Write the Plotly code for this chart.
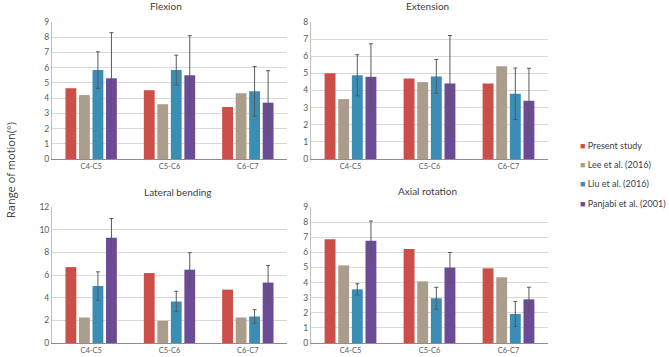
import plotly.graph_objects as go

levels = ["C4-C5", "C5-C6", "C6-C7"]
series = ["Present study", "Lee et al. (2016)", "Liu et al. (2016)", "Panjabi et al. (2001)"]
colors = ["#CB4F48", "#AB9D8C", "#3A8DB4", "#6B4A96"]

panel_titles = ["Flexion", "Extension", "Lateral bending", "Axial rotation"]

flexion_present = [4.65, 4.52, 3.42]
flexion_lee = [4.2, 3.6, 4.32]
flexion_liu = [5.84, 5.84, 4.45]
flexion_liu_err = [1.2, 0.98, 1.63]
flexion_panjabi = [5.3, 5.5, 3.7]
flexion_panjabi_err = [3.0, 2.6, 2.1]

extension_present = [5.01, 4.7, 4.41]
extension_lee = [3.5, 4.49, 5.42]
extension_liu = [4.89, 4.82, 3.81]
extension_liu_err = [1.2, 0.99, 1.5]
extension_panjabi = [4.8, 4.41, 3.4]
extension_panjabi_err = [1.93, 2.8, 1.9]

lateral_present = [6.7, 6.17, 4.71]
lateral_lee = [2.25, 1.96, 2.25]
lateral_liu = [5.03, 3.66, 2.34]
lateral_liu_err = [1.25, 0.9, 0.6]
lateral_panjabi = [9.28, 6.47, 5.33]
lateral_panjabi_err = [1.7, 1.5, 1.5]

axial_present = [6.86, 6.22, 4.94]
axial_lee = [5.14, 4.08, 4.35]
axial_liu = [3.55, 2.96, 1.92]
axial_liu_err = [0.37, 0.73, 0.83]
axial_panjabi = [6.77, 4.99, 2.89]
axial_panjabi_err = [1.3, 1.0, 0.8]

panels = [
    (flexion_present, flexion_lee, flexion_liu, flexion_liu_err, flexion_panjabi, flexion_panjabi_err),
    (extension_present, extension_lee, extension_liu, extension_liu_err, extension_panjabi, extension_panjabi_err),
    (lateral_present, lateral_lee, lateral_liu, lateral_liu_err, lateral_panjabi, lateral_panjabi_err),
    (axial_present, axial_lee, axial_liu, axial_liu_err, axial_panjabi, axial_panjabi_err),
]
y_ranges = [(0, 9, 1), (0, 8, 1), (0, 12, 2), (0, 9, 1)]

W, H = 669, 357
x_domains = [(52 / W, 287 / W), (311 / W, 548 / W)]
y_domains = [((H - 159) / H, (H - 22) / H), ((H - 343) / H, (H - 207) / H)]

FONT = "Lato, 'Open Sans', sans-serif"
fig = go.Figure()

err_style = dict(type="data", symmetric=True, thickness=1, width=2, color="#595959")

for i, p in enumerate(panels):
    present, lee, liu, liu_err, panj, panj_err = p
    ax = "" if i == 0 else str(i + 1)
    xa, ya = "x" + ax, "y" + ax
    vals = [present, lee, liu, panj]
    errs = [None, None, liu_err, panj_err]
    for s in range(4):
        tr = dict(x=levels, y=vals[s], name=series[s], marker_color=colors[s],
                  marker_line_width=0, showlegend=False, xaxis=xa, yaxis=ya,
                  hoverinfo="skip")
        if errs[s] is not None:
            tr["error_y"] = dict(array=errs[s], **err_style)
        fig.add_trace(go.Bar(**tr))

layout = dict(
    width=W, height=H,
    margin=dict(l=0, r=0, t=0, b=0, pad=0, autoexpand=False),
    paper_bgcolor="white", plot_bgcolor="white",
    barmode="group", bargap=0.31, bargroupgap=0.2,
    font=dict(family=FONT, color="#595959", size=9),
    showlegend=False,
)

for i in range(4):
    ax = "" if i == 0 else str(i + 1)
    col, row = i % 2, i // 2
    lo, hi, dt = y_ranges[i]
    layout["xaxis" + ax] = dict(domain=x_domains[col], anchor="y" + ax,
                                showline=True, linecolor="#8c8c8c", linewidth=1,
                                ticks="", showgrid=False, automargin=False,
                                tickfont=dict(size=7.5, color="#595959"),
                                fixedrange=True)
    layout["yaxis" + ax] = dict(domain=y_domains[row], anchor="x" + ax,
                                range=[lo, hi], dtick=dt, tick0=0,
                                showline=True, linecolor="#bfbfbf", linewidth=1,
                                showgrid=True, gridcolor="#d9d9d9", gridwidth=1,
                                zeroline=False, ticks="", automargin=False,
                                tickfont=dict(size=8.5, color="#595959"),
                                fixedrange=True)

fig.update_layout(**layout)

title_pos = [(166, 6), (427, 6), (178, 192), (427, 191)]
for (tx, ty), t in zip(title_pos, panel_titles):
    fig.add_annotation(x=tx / W, y=(H - ty) / H, xref="paper", yref="paper",
                       text=t, showarrow=False, xanchor="center", yanchor="middle",
                       font=dict(family=FONT, size=10, color="#404040"))

fig.add_annotation(x=10 / W, y=(H - 170) / H, xref="paper", yref="paper",
                   text="Range of motion(°)", showarrow=False, textangle=-90,
                   xanchor="center", yanchor="middle",
                   font=dict(family="'Open Sans', sans-serif", size=11, color="#404040"))

# legend (swatch + label), laid out as a list
legend_x, legend_y0, legend_dy = 578, 145, 19.5
for s in range(4):
    fig.add_annotation(x=legend_x / W, y=(H - (legend_y0 + s * legend_dy)) / H,
                       xref="paper", yref="paper", showarrow=False,
                       xanchor="left", yanchor="middle",
                       text=f"<span style='color:{colors[s]}'>■</span> {series[s]}",
                       font=dict(family=FONT, size=9, color="#404040"))

fig.write_html("out.html", config={"displayModeBar": False},
               post_script="document.body.style.margin='0px';")
